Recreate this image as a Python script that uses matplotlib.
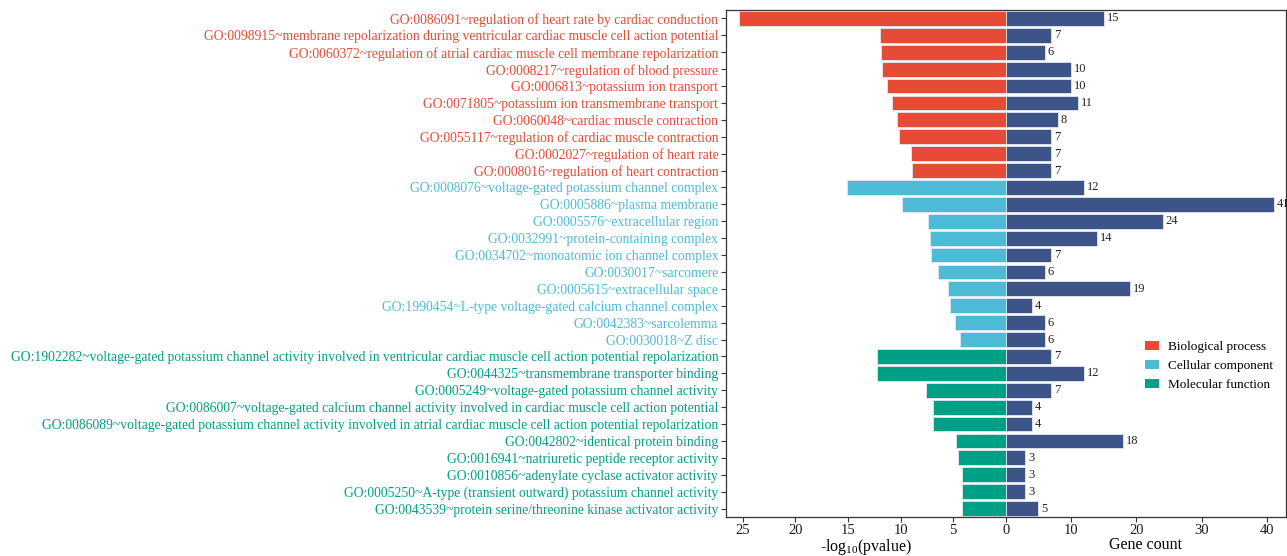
import matplotlib
matplotlib.use("Agg")
import matplotlib.pyplot as plt
from matplotlib.patches import Patch

# GO terms, top to bottom
terms = [
    "GO:0086091~regulation of heart rate by cardiac conduction",
    "GO:0098915~membrane repolarization during ventricular cardiac muscle cell action potential",
    "GO:0060372~regulation of atrial cardiac muscle cell membrane repolarization",
    "GO:0008217~regulation of blood pressure",
    "GO:0006813~potassium ion transport",
    "GO:0071805~potassium ion transmembrane transport",
    "GO:0060048~cardiac muscle contraction",
    "GO:0055117~regulation of cardiac muscle contraction",
    "GO:0002027~regulation of heart rate",
    "GO:0008016~regulation of heart contraction",
    "GO:0008076~voltage-gated potassium channel complex",
    "GO:0005886~plasma membrane",
    "GO:0005576~extracellular region",
    "GO:0032991~protein-containing complex",
    "GO:0034702~monoatomic ion channel complex",
    "GO:0030017~sarcomere",
    "GO:0005615~extracellular space",
    "GO:1990454~L-type voltage-gated calcium channel complex",
    "GO:0042383~sarcolemma",
    "GO:0030018~Z disc",
    "GO:1902282~voltage-gated potassium channel activity involved in ventricular cardiac muscle cell action potential repolarization",
    "GO:0044325~transmembrane transporter binding",
    "GO:0005249~voltage-gated potassium channel activity",
    "GO:0086007~voltage-gated calcium channel activity involved in cardiac muscle cell action potential",
    "GO:0086089~voltage-gated potassium channel activity involved in atrial cardiac muscle cell action potential repolarization",
    "GO:0042802~identical protein binding",
    "GO:0016941~natriuretic peptide receptor activity",
    "GO:0010856~adenylate cyclase activator activity",
    "GO:0005250~A-type (transient outward) potassium channel activity",
    "GO:0043539~protein serine/threonine kinase activator activity",
]
category = ["Biological process"] * 10 + ["Cellular component"] * 10 + ["Molecular function"] * 10

neg_log_p = [25.4, 12.0, 11.9, 11.75, 11.3, 10.8, 10.3, 10.1, 9.05, 8.95,
             15.1, 9.9, 7.4, 7.2, 7.1, 6.4, 5.5, 5.3, 4.85, 4.3,
             12.25, 12.2, 7.55, 6.95, 6.95, 4.7, 4.5, 4.2, 4.2, 4.15]
gene_count = [15, 7, 6, 10, 10, 11, 8, 7, 7, 7,
              12, 41, 24, 14, 7, 6, 19, 4, 6, 6,
              7, 12, 7, 4, 4, 18, 3, 3, 3, 5]

cat_colors = {"Biological process": "#E64B35",
              "Cellular component": "#4DBBD5",
              "Molecular function": "#00A087"}
count_color = "#3C5488"

plt.rcParams['font.family'] = ['Liberation Serif', 'DejaVu Serif']
plt.rcParams['mathtext.fontset'] = 'custom'
plt.rcParams['mathtext.rm'] = 'Liberation Serif'
plt.rcParams['mathtext.default'] = 'regular'

W, H = 1287, 556
fig = plt.figure(figsize=(W / 100, H / 100), dpi=100)
x0, xm, x1 = 726, 1005.7, 1286
ytop, ybot = 10, 517
ax1 = fig.add_axes([x0 / W, 1 - ybot / H, (xm - x0) / W, (ybot - ytop) / H])
ax2 = fig.add_axes([xm / W, 1 - ybot / H, (x1 - xm) / W, (ybot - ytop) / H])

ypos = list(range(len(terms)))
colors = [cat_colors[c] for c in category]
bar_kw = dict(height=0.88, edgecolor='#e3e7ef', linewidth=0.6)

# left panel: -log10(pvalue)
ax1.barh(ypos, neg_log_p, color=colors, **bar_kw)
ax1.set_xlim(26.6, 0)
ax1.set_ylim(len(terms) - 0.5, -0.5)
ax1.set_yticks(ypos)
ax1.set_yticklabels(terms, fontsize=9.8)
ax1.set_xticks([0, 5, 10, 15, 20, 25])
ax1.set_xlabel("-log$_{10}$(pvalue)", fontsize=11.5, labelpad=0)

# right panel: gene count
ax2.barh(ypos, gene_count, color=count_color, **bar_kw)
for yy, n in zip(ypos, gene_count):
    ax2.text(n + 0.45, yy, str(n), va='center', ha='left', fontsize=9, color='#222222')
ax2.set_xlim(0, 42.9)
ax2.set_ylim(len(terms) - 0.5, -0.5)
ax2.set_yticks([])
ax2.set_xticks([10, 20, 30, 40])
ax2.set_xlabel("Gene count", fontsize=11.5, labelpad=0)

for ax in (ax1, ax2):
    for s in ax.spines.values():
        s.set_color('#333333')
        s.set_linewidth(0.9)
    ax.tick_params(axis='both', length=3.5, width=0.8, color='#333333',
                   labelcolor='#1a1a1a', pad=2)
    ax.tick_params(axis='x', labelsize=10.5, pad=1.5)
ax1.spines['right'].set_visible(False)
ax2.spines['left'].set_visible(False)

# colour the term labels by category
for lbl, c in zip(ax1.get_yticklabels(), colors):
    lbl.set_color(c)

handles = [Patch(facecolor=cat_colors[k], edgecolor='none') for k in cat_colors]
fig.legend(handles, list(cat_colors), loc='center left',
           bbox_to_anchor=(1145 / W, 1 - 366 / H), frameon=False,
           fontsize=9.5, handlelength=1.05, handleheight=0.75,
           handletextpad=0.7, labelspacing=0.5, borderpad=0, borderaxespad=0)

fig.savefig("out.png", dpi=100)
